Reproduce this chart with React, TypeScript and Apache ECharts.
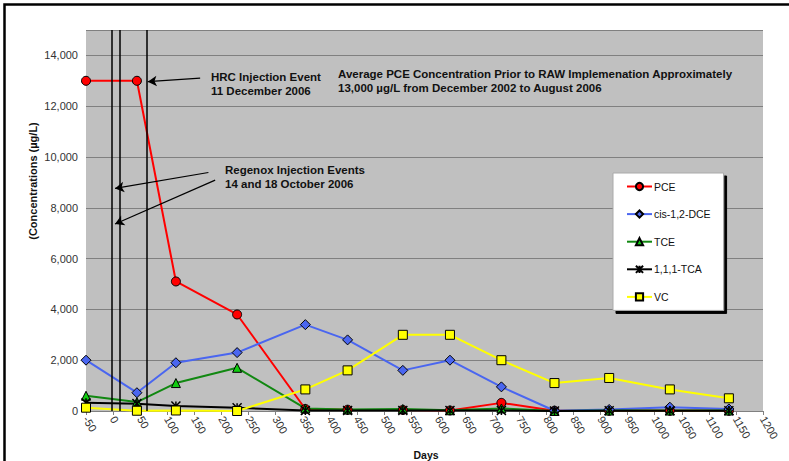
import React, { useEffect, useRef } from "react";
import * as echarts from "echarts";

const days = [-50, 44, 116, 229, 355, 433, 535, 622, 717, 815, 916, 1028, 1137];
const pce = [13000, 13000, 5100, 3800, 80, 50, 40, 20, 320, 10, 10, 10, 10];
const cisDce = [2000, 720, 1900, 2300, 3400, 2800, 1600, 2000, 950, 10, 60, 150, 80];
const tce = [600, 350, 1100, 1700, 100, 60, 80, 30, 100, 0, 20, 20, 20];
const tca = [320, 290, 200, 130, 20, 20, 20, 20, 20, 0, 10, 10, 10];
const vc = [130, 10, 20, 0, 850, 1600, 3000, 3000, 2000, 1100, 1300, 850, 500];

const injectionDays = [-2.5, 13, 62];
// arrows: [fromDay, fromConc, toDay, toConc]
const arrows = [
  [160.8, 13108, 64, 12967],
  [176, 9391, 3.6, 8762],
  [188.5, 9088, 3.6, 7360],
];

const seriesNames = ["PCE", "cis-1,2-DCE", "TCE", "1,1,1-TCA", "VC"];

const FONT = "'Liberation Sans', Arial, sans-serif";
const STAR = "path://M0,0L10,10M10,0L0,10M5,0L5,10";

export default function App() {
  const ref = useRef<HTMLDivElement>(null);
  useEffect(() => {
    if (!ref.current) return;
    const chart = echarts.init(ref.current, null, { renderer: "svg" });
    const pair = (vals: number[]) => days.map((d, i) => [d, vals[i]]);
    const base = (name: string, vals: number[], color: string, symbol: string, fill: string, size: number) => ({
      name,
      type: "line",
      data: pair(vals),
      symbol,
      symbolSize: size,
      lineStyle: { color, width: 2 },
      itemStyle: { color: fill, borderColor: "#000", borderWidth: 1 },
      emphasis: { disabled: true },
    });
    const s0: any = base(seriesNames[0], pce, "#ff0000", "circle", "#ff0000", 9);
    s0.markLine = {
      silent: true,
      symbol: "none",
      animation: false,
      label: { show: false },
      lineStyle: { color: "#000", width: 1.5, type: "solid" },
      data: injectionDays.map((d) => ({ xAxis: d })),
    };
    const s1: any = base(seriesNames[1], cisDce, "#4a66f0", "diamond", "#4a66f0", 10);
    const s2: any = base(seriesNames[2], tce, "#118811", "triangle", "#11cc11", 9);
    const s3: any = base(seriesNames[3], tca, "#000000", STAR, "#000000", 9);
    s3.itemStyle = { color: "#000", borderColor: "#000", borderWidth: 1.5 };
    s3.markLine = {
      silent: true,
      symbol: ["none", "arrow"],
      symbolSize: [8, 9],
      animation: false,
      label: { show: false },
      lineStyle: { color: "#000", width: 1.2, type: "solid" },
      data: arrows.map((a) => [{ coord: [a[0], a[1]] }, { coord: [a[2], a[3]] }]),
    };
    const s4: any = base(seriesNames[4], vc, "#ffff00", "rect", "#ffff00", 9);

    const boldText = (x: number, y: number, text: string) => ({
      type: "text",
      x,
      y,
      silent: true,
      style: {
        text,
        font: `bold 11.5px ${FONT}`,
        fill: "#111",
        textVerticalAlign: "middle",
        verticalAlign: "middle",
      },
    });

    chart.setOption({
      animation: false,
      backgroundColor: "#fff",
      grid: {
        left: 86,
        right: 26,
        top: 30,
        bottom: 50,
        show: true,
        backgroundColor: "#c0c0c0",
        borderWidth: 0,
      },
      xAxis: {
        type: "value",
        min: -50,
        max: 1200,
        interval: 50,
        axisLine: { show: true, onZero: false, lineStyle: { color: "#808080", width: 1 } },
        axisTick: { show: true, length: 4, lineStyle: { color: "#808080" } },
        splitLine: { show: false },
        axisLabel: {
          rotate: -60,
          fontFamily: FONT,
          fontSize: 11,
          color: "#333",
          margin: 6,
          formatter: (v: number) => String(v),
        },
      },
      yAxis: {
        type: "value",
        min: 0,
        max: 15000,
        interval: 2000,
        axisLine: { show: false },
        axisTick: { show: true, length: 5, lineStyle: { color: "#808080" } },
        splitLine: { show: true, lineStyle: { color: "#808080", width: 1 } },
        axisLabel: {
          fontFamily: FONT,
          fontSize: 11,
          color: "#333",
          margin: 8,
          showMaxLabel: false,
          formatter: (v: number) => (v > 14000 ? "" : v.toLocaleString("en-US")),
        },
      },
      legend: {
        orient: "vertical",
        left: 613,
        top: 173,
        itemWidth: 25,
        itemHeight: 9,
        itemGap: 16.6,
        padding: [8, 13, 8, 13],
        backgroundColor: "#fff",
        borderColor: "#aaa",
        borderWidth: 1,
        shadowColor: "#000",
        shadowOffsetX: 3,
        shadowOffsetY: 3,
        shadowBlur: 0,
        selectedMode: false,
        textStyle: { fontFamily: FONT, fontSize: 10.5, color: "#111", padding: [0, 0, 0, -3] },
        data: seriesNames,
      },
      graphic: [
        {
          type: "rect",
          silent: true,
          shape: { x: 4.5, y: 4.5, width: 820, height: 500 },
          style: { fill: "none", stroke: "#000", lineWidth: 2.5 },
        },
        boldText(211, 77, "HRC Injection Event"),
        boldText(211, 91, "11 December 2006"),
        boldText(338, 74, "Average PCE Concentration Prior to RAW Implemenation Approximately"),
        boldText(338, 88, "13,000 µg/L from December 2002 to August 2006"),
        boldText(225, 169.5, "Regenox Injection Events"),
        boldText(225, 183.5, "14 and 18 October 2006"),
        {
          type: "text",
          x: 33,
          y: 181,
          rotation: Math.PI / 2,
          silent: true,
          style: {
            text: "(Concentrations (µg/L)",
            font: `bold 11px ${FONT}`,
            fill: "#111",
            textAlign: "center",
            align: "center",
            textVerticalAlign: "middle",
            verticalAlign: "middle",
          },
        },
        {
          type: "text",
          x: 426,
          y: 455,
          silent: true,
          style: {
            text: "Days",
            font: `bold 10.5px ${FONT}`,
            fill: "#111",
            textAlign: "center",
            align: "center",
            textVerticalAlign: "middle",
            verticalAlign: "middle",
          },
        },
      ],
      series: [s0, s1, s2, s3, s4],
    });
    return () => chart.dispose();
  }, []);
  return (
    <div
      ref={ref}
      style={{ position: "fixed", left: 0, top: 0, width: 789, height: 461 }}
    />
  );
}
